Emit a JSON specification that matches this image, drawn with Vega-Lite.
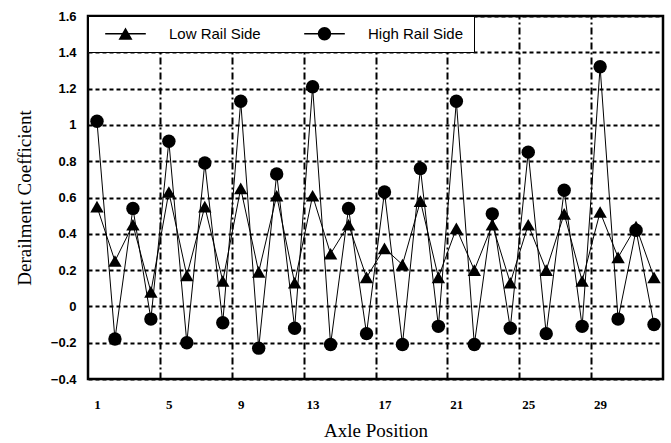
{
  "$schema": "https://vega.github.io/schema/vega-lite/v6.json",
  "width": 575,
  "height": 363,
  "autosize": "none",
  "padding": {"left": 88, "top": 16, "right": 8, "bottom": 64},
  "config": {
    "view": {"stroke": "black", "strokeWidth": 2.5},
    "axis": {"domain": false, "ticks": false}
  },
  "data": {
    "values": [
      {"axle": 1, "series": "Low Rail Side", "value": 0.55},
      {"axle": 2, "series": "Low Rail Side", "value": 0.25},
      {"axle": 3, "series": "Low Rail Side", "value": 0.45},
      {"axle": 4, "series": "Low Rail Side", "value": 0.08},
      {"axle": 5, "series": "Low Rail Side", "value": 0.63},
      {"axle": 6, "series": "Low Rail Side", "value": 0.17},
      {"axle": 7, "series": "Low Rail Side", "value": 0.55},
      {"axle": 8, "series": "Low Rail Side", "value": 0.14},
      {"axle": 9, "series": "Low Rail Side", "value": 0.65},
      {"axle": 10, "series": "Low Rail Side", "value": 0.19},
      {"axle": 11, "series": "Low Rail Side", "value": 0.61},
      {"axle": 12, "series": "Low Rail Side", "value": 0.13},
      {"axle": 13, "series": "Low Rail Side", "value": 0.61},
      {"axle": 14, "series": "Low Rail Side", "value": 0.29},
      {"axle": 15, "series": "Low Rail Side", "value": 0.45},
      {"axle": 16, "series": "Low Rail Side", "value": 0.16},
      {"axle": 17, "series": "Low Rail Side", "value": 0.32},
      {"axle": 18, "series": "Low Rail Side", "value": 0.23},
      {"axle": 19, "series": "Low Rail Side", "value": 0.58},
      {"axle": 20, "series": "Low Rail Side", "value": 0.16},
      {"axle": 21, "series": "Low Rail Side", "value": 0.43},
      {"axle": 22, "series": "Low Rail Side", "value": 0.2},
      {"axle": 23, "series": "Low Rail Side", "value": 0.45},
      {"axle": 24, "series": "Low Rail Side", "value": 0.13},
      {"axle": 25, "series": "Low Rail Side", "value": 0.45},
      {"axle": 26, "series": "Low Rail Side", "value": 0.2},
      {"axle": 27, "series": "Low Rail Side", "value": 0.51},
      {"axle": 28, "series": "Low Rail Side", "value": 0.14},
      {"axle": 29, "series": "Low Rail Side", "value": 0.52},
      {"axle": 30, "series": "Low Rail Side", "value": 0.27},
      {"axle": 31, "series": "Low Rail Side", "value": 0.44},
      {"axle": 32, "series": "Low Rail Side", "value": 0.16},
      {"axle": 1, "series": "High Rail Side", "value": 1.02},
      {"axle": 2, "series": "High Rail Side", "value": -0.18},
      {"axle": 3, "series": "High Rail Side", "value": 0.54},
      {"axle": 4, "series": "High Rail Side", "value": -0.07},
      {"axle": 5, "series": "High Rail Side", "value": 0.91},
      {"axle": 6, "series": "High Rail Side", "value": -0.2},
      {"axle": 7, "series": "High Rail Side", "value": 0.79},
      {"axle": 8, "series": "High Rail Side", "value": -0.09},
      {"axle": 9, "series": "High Rail Side", "value": 1.13},
      {"axle": 10, "series": "High Rail Side", "value": -0.23},
      {"axle": 11, "series": "High Rail Side", "value": 0.73},
      {"axle": 12, "series": "High Rail Side", "value": -0.12},
      {"axle": 13, "series": "High Rail Side", "value": 1.21},
      {"axle": 14, "series": "High Rail Side", "value": -0.21},
      {"axle": 15, "series": "High Rail Side", "value": 0.54},
      {"axle": 16, "series": "High Rail Side", "value": -0.15},
      {"axle": 17, "series": "High Rail Side", "value": 0.63},
      {"axle": 18, "series": "High Rail Side", "value": -0.21},
      {"axle": 19, "series": "High Rail Side", "value": 0.76},
      {"axle": 20, "series": "High Rail Side", "value": -0.11},
      {"axle": 21, "series": "High Rail Side", "value": 1.13},
      {"axle": 22, "series": "High Rail Side", "value": -0.21},
      {"axle": 23, "series": "High Rail Side", "value": 0.51},
      {"axle": 24, "series": "High Rail Side", "value": -0.12},
      {"axle": 25, "series": "High Rail Side", "value": 0.85},
      {"axle": 26, "series": "High Rail Side", "value": -0.15},
      {"axle": 27, "series": "High Rail Side", "value": 0.64},
      {"axle": 28, "series": "High Rail Side", "value": -0.11},
      {"axle": 29, "series": "High Rail Side", "value": 1.32},
      {"axle": 30, "series": "High Rail Side", "value": -0.07},
      {"axle": 31, "series": "High Rail Side", "value": 0.42},
      {"axle": 32, "series": "High Rail Side", "value": -0.1}
    ]
  },
  "encoding": {
    "y": {
      "field": "value", "type": "quantitative",
      "scale": {"domain": [-0.4, 1.6], "nice": false},
      "axis": {
        "values": [-0.4, -0.2, 0, 0.2, 0.4, 0.6, 0.8, 1, 1.2, 1.4, 1.6],
        "format": "~g", "labelOverlap": false,
        "title": "Derailment Coefficient",
        "titleFont": "Liberation Serif", "titleFontSize": 19, "titleFontWeight": "normal",
        "titleColor": "black", "titlePadding": 16,
        "labelFont": "Liberation Sans", "labelFontSize": 13, "labelFontWeight": "bold",
        "labelColor": "black", "labelPadding": 12,
        "grid": true, "gridColor": "black", "gridWidth": 2, "gridDash": [4, 3], "gridOpacity": 1
      }
    }
  },
  "layer": [
    {
      "mark": {"type": "line", "color": "black", "strokeWidth": 1},
      "encoding": {
        "x": {
          "field": "axle", "type": "quantitative",
          "scale": {"domain": [0.5, 32.5], "nice": false, "zero": false},
          "axis": {
            "orient": "top", "values": [4.5, 8.5, 12.5, 16.5, 20.5, 24.5, 28.5],
            "labels": false, "title": null, "grid": true,
            "gridColor": "black", "gridWidth": 2, "gridDash": [7, 3, 2, 3], "gridOpacity": 1
          }
        },
        "detail": {"field": "series"}
      }
    },
    {
      "mark": {"type": "point", "filled": true, "opacity": 1, "color": "black", "size": 180},
      "encoding": {
        "x": {
          "field": "axle", "type": "quantitative",
          "axis": {
            "orient": "bottom", "values": [1, 5, 9, 13, 17, 21, 25, 29],
            "grid": false, "title": "Axle Position", "labelOverlap": false,
            "titleFont": "Liberation Serif", "titleFontSize": 19, "titleFontWeight": "normal",
            "titleColor": "black", "titlePadding": 10,
            "labelFont": "Liberation Serif", "labelFontSize": 13, "labelFontWeight": "bold",
            "labelColor": "black", "labelPadding": 19
          }
        },
        "shape": {
          "field": "series", "type": "nominal",
          "scale": {"domain": ["Low Rail Side", "High Rail Side"], "range": ["triangle-up", "circle"]},
          "legend": null
        }
      }
    },
    {
      "mark": {"type": "point", "filled": true, "opacity": 1, "color": "black", "size": 0},
      "encoding": {
        "x": {"field": "axle", "type": "quantitative", "axis": null},
        "shape": {
          "field": "series", "type": "nominal",
          "scale": {
            "domain": ["Low Rail Side", "High Rail Side"],
            "range": [
              "M -2.9 -0.09 L -0.45 -0.09 L -0.45 0.09 L -2.9 0.09 Z M 0.45 -0.09 L 2.9 -0.09 L 2.9 0.09 L 0.45 0.09 Z M -1 0.85 L 0 -0.9 L 1 0.85 Z",
              "M -2.9 -0.09 L -0.9 -0.09 L -0.9 0.09 L -2.9 0.09 Z M 0.9 -0.09 L 2.9 -0.09 L 2.9 0.09 L 0.9 0.09 Z M 0.95 0 A 0.95 0.95 0 1 1 -0.95 0 A 0.95 0.95 0 1 1 0.95 0 Z"
            ]
          },
          "legend": {
            "title": null, "orient": "top-left", "offset": 0, "direction": "horizontal",
            "fillColor": "white", "strokeColor": "black",
            "padding": 10, "columnPadding": 36, "labelOffset": 36, "symbolOffset": 20,
            "labelFont": "Liberation Sans", "labelFontSize": 15, "labelColor": "black",
            "symbolSize": 196, "symbolOpacity": 1, "symbolFillColor": "black",
            "symbolStrokeColor": "black", "symbolStrokeWidth": 0
          }
        }
      }
    }
  ],
  "resolve": {"axis": {"x": "independent"}, "scale": {"shape": "independent"}}
}
